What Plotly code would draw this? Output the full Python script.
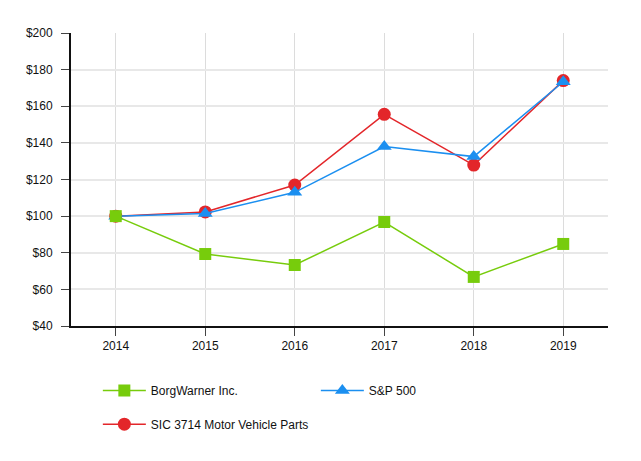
import plotly.graph_objects as go

years = ["2014", "2015", "2016", "2017", "2018", "2019"]
borgwarner = [100, 79.3, 73.3, 96.8, 66.8, 84.8]
sp500 = [100, 101.4, 113.0, 138.0, 132.5, 173.4]
sic3714 = [100, 102.3, 117.0, 155.6, 127.9, 174.0]
y_ticks = [40, 60, 80, 100, 120, 140, 160, 180, 200]
y_tick_labels = ["$" + str(v) for v in y_ticks]

green = "#77cc0c"
blue = "#1b8ff0"
red = "#e3262a"

fig = go.Figure()
fig.add_trace(go.Scatter(x=years, y=sic3714, name="SIC 3714 Motor Vehicle Parts", mode="lines+markers",
                         line=dict(color=red, width=1.5),
                         marker=dict(symbol="circle", size=13, color=red), legend="legend2"))
fig.add_trace(go.Scatter(x=years, y=sp500, name="S&P 500", mode="lines+markers",
                         line=dict(color=blue, width=1.5), legendrank=2,
                         marker=dict(symbol="triangle-up", size=13, color=blue), legend="legend"))
fig.add_trace(go.Scatter(x=years, y=borgwarner, name="BorgWarner Inc.", mode="lines+markers",
                         line=dict(color=green, width=1.5), legendrank=1,
                         marker=dict(symbol="square", size=12, color=green), legend="legend"))

font = dict(family="Liberation Sans, Arial, sans-serif", size=12, color="#111")

fig.update_layout(
    width=633, height=453,
    margin=dict(l=63, r=33, t=25, b=135),
    plot_bgcolor="white", paper_bgcolor="white",
    font=font,
    xaxis=dict(type="category", range=[-0.5, 5.5], showgrid=True, gridcolor="#dcdcdc", gridwidth=1,
               showline=True, linecolor="#111", linewidth=2, ticks="outside", ticklen=8,
               tickcolor="#444", tickfont=font, zeroline=False),
    yaxis=dict(range=[40, 200], tickvals=y_ticks, ticktext=y_tick_labels, showgrid=True,
               gridcolor="#e8e8e8", gridwidth=1.5, showline=True, linecolor="#111", linewidth=2,
               ticks="outside", ticklen=8, tickcolor="#444", tickfont=font, zeroline=False,
               ticklabelstandoff=6),
    legend=dict(orientation="h", x=0.05, y=-0.22, xanchor="left", yanchor="middle", itemwidth=43,
                entrywidth=160, entrywidthmode="pixels", font=font, bgcolor="rgba(0,0,0,0)"),
    legend2=dict(orientation="h", x=0.05, y=-0.335, xanchor="left", yanchor="middle", itemwidth=43,
                 font=font, bgcolor="rgba(0,0,0,0)"),
)

fig.write_html("out.html")
